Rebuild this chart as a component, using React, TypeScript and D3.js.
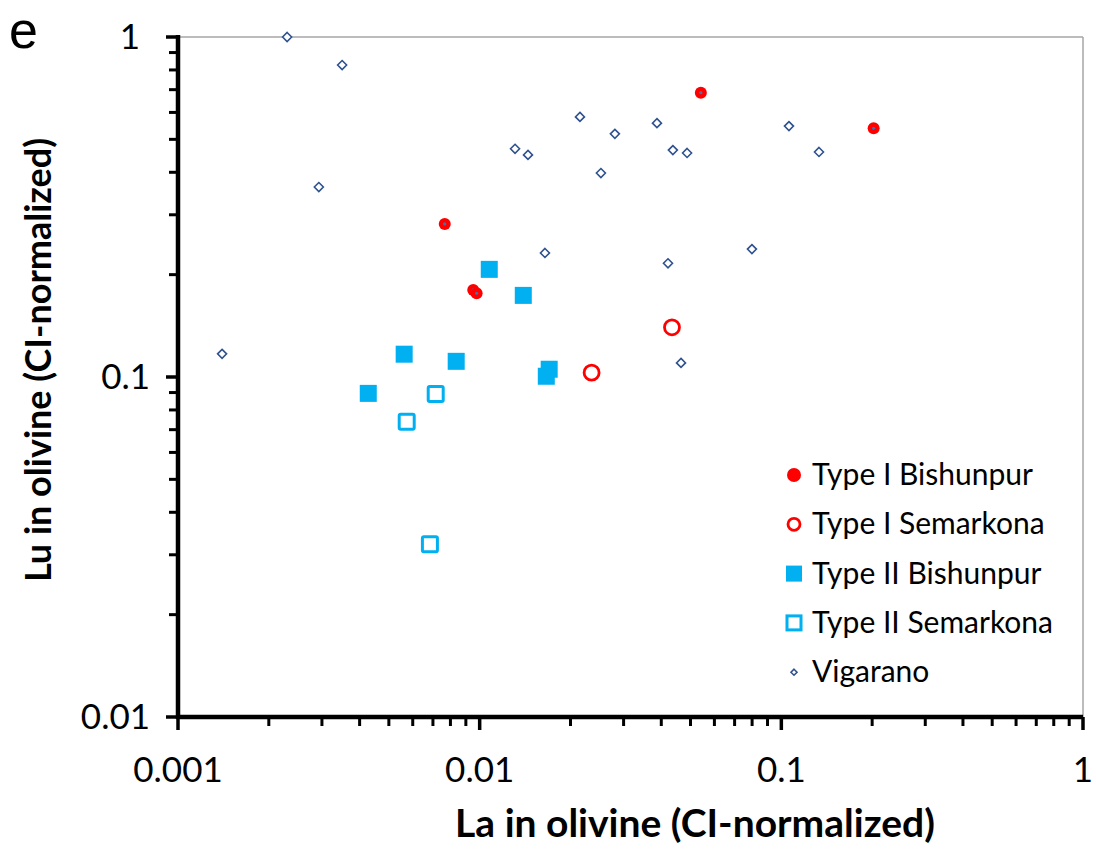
import * as d3 from "d3";

// La (x) and Lu (y) in olivine, CI-normalized
const type1BishunpurLa = [0.0541, 0.2023, 0.00766, 0.00952, 0.00977];
const type1BishunpurLu = [0.686, 0.539, 0.282, 0.1803, 0.1763];

const type1SemarkonaLa = [0.0235, 0.0434];
const type1SemarkonaLu = [0.103, 0.14];

const type2BishunpurLa = [0.01076, 0.01395, 0.00562, 0.00836, 0.004273, 0.017, 0.01663];
const type2BishunpurLu = [0.2073, 0.1738, 0.1167, 0.1112, 0.0895, 0.1054, 0.1005];

const type2SemarkonaLa = [0.00715, 0.00573, 0.00684];
const type2SemarkonaLu = [0.0891, 0.0739, 0.0322];

const vigaranoLa = [
  0.0023, 0.0035, 0.00293, 0.0014, 0.0131, 0.01446, 0.0215, 0.02807, 0.02523,
  0.01646, 0.0387, 0.0437, 0.0487, 0.0421, 0.0465, 0.0799, 0.106, 0.1333,
];
const vigaranoLu = [
  1.0, 0.827, 0.362, 0.117, 0.469, 0.45, 0.582, 0.519, 0.398, 0.2316, 0.558,
  0.465, 0.456, 0.216, 0.11, 0.2378, 0.547, 0.459,
];

const xTickLabels = ["0.001", "0.01", "0.1", "1"];
const yTickLabels = ["0.01", "0.1", "1"];

const legendLabels = [
  "Type I Bishunpur",
  "Type I Semarkona",
  "Type II Bishunpur",
  "Type II Semarkona",
  "Vigarano",
];

const RED = "#ff0000";
const CYAN = "#00b0f0";
const NAVY = "#2f528f";
const FONT = "Lato, 'Open Sans', sans-serif";

const zip = (xs: number[], ys: number[]) => xs.map((x, i) => [x, ys[i]] as [number, number]);

function minorTicks(lo: number, hi: number) {
  const out: number[] = [];
  for (let d = lo; d < hi; d *= 10) {
    for (let k = 2; k <= 9; k++) out.push(d * k);
  }
  return out;
}

function Diamond({ x, y, r = 4.5 }: { x: number; y: number; r?: number }) {
  return (
    <path
      d={`M${x},${y - r}L${x + r},${y}L${x},${y + r}L${x - r},${y}Z`}
      fill="white"
      stroke={NAVY}
      strokeWidth={1.6}
    />
  );
}

export default function App() {
  const W = 1096;
  const H = 849;
  const left = 178;
  const right = 1083;
  const top = 37;
  const bottom = 717;

  const x = d3.scaleLog().domain([0.001, 1]).range([left, right]);
  const y = d3.scaleLog().domain([0.01, 1]).range([bottom, top]);

  const xMinor = minorTicks(0.001, 1);
  const yMinor = minorTicks(0.01, 1);
  const xMajor = xTickLabels.map(Number);
  const yMajor = yTickLabels.map(Number);

  const legendX = 794;
  const legendY0 = 475;
  const legendStep = 49.3;

  return (
    <svg
      width={W}
      height={H}
      style={{ position: "absolute", left: 0, top: 0, background: "white" }}
    >
      <rect x={0} y={0} width={W} height={H} fill="white" />

      {/* panel letter */}
      <text x={9} y={47.5} fontFamily="'Liberation Sans', Arial, sans-serif" fontSize={52}>
        e
      </text>

      {/* frame */}
      <line x1={left} x2={right} y1={top} y2={top} stroke="#a6a6a6" strokeWidth={1.5} />
      <line x1={right} x2={right} y1={top} y2={bottom} stroke="#a6a6a6" strokeWidth={1.5} />

      {/* y ticks */}
      {yMinor.map((v) => (
        <line key={"ym" + v} x1={left - 9} x2={left} y1={y(v)} y2={y(v)} stroke="black" strokeWidth={3} />
      ))}
      {yMajor.map((v) => (
        <line key={"yM" + v} x1={left - 12} x2={left} y1={y(v)} y2={y(v)} stroke="black" strokeWidth={3.5} />
      ))}
      {/* x ticks */}
      {xMinor.map((v) => (
        <line key={"xm" + v} x1={x(v)} x2={x(v)} y1={bottom} y2={bottom + 9} stroke="black" strokeWidth={3} />
      ))}
      {xMajor.map((v) => (
        <line key={"xM" + v} x1={x(v)} x2={x(v)} y1={bottom} y2={bottom + 13} stroke="black" strokeWidth={3.5} />
      ))}

      {/* axes */}
      <line x1={left} x2={left} y1={top - 2} y2={bottom + 2} stroke="black" strokeWidth={4.5} />
      <line x1={left - 2} x2={right} y1={bottom} y2={bottom} stroke="black" strokeWidth={4.5} />

      {/* tick labels */}
      {xTickLabels.map((t, i) => (
        <text key={"xl" + t} x={x(xMajor[i])} y={782} textAnchor="middle" fontFamily={FONT} fontSize={35}>
          {t}
        </text>
      ))}
      {yTickLabels.map((t, i) => (
        <text key={"yl" + t} x={t === "1" ? 140 : 150} y={y(yMajor[i]) + 12} textAnchor="end" fontFamily={FONT} fontSize={35}>
          {t}
        </text>
      ))}

      {/* axis titles */}
      <text x={695} y={837} textAnchor="middle" fontFamily={FONT} fontSize={39} fontWeight="bold">
        La in olivine (CI-normalized)
      </text>
      <text
        transform="translate(51, 360) rotate(-90)"
        textAnchor="middle"
        fontFamily={FONT}
        fontSize={36}
        fontWeight="bold"
      >
        Lu in olivine (CI-normalized)
      </text>

      {/* Vigarano */}
      {zip(vigaranoLa, vigaranoLu).map(([a, b], i) => (
        <Diamond key={"v" + i} x={x(a)} y={y(b)} />
      ))}

      {/* Type II Semarkona */}
      {zip(type2SemarkonaLa, type2SemarkonaLu).map(([a, b], i) => (
        <rect key={"t2s" + i} x={x(a) - 7.5} y={y(b) - 7.5} width={15} height={15} rx={1.5}
          fill="white" stroke={CYAN} strokeWidth={3} />
      ))}

      {/* Type II Bishunpur */}
      {zip(type2BishunpurLa, type2BishunpurLu).map(([a, b], i) => (
        <rect key={"t2b" + i} x={x(a) - 8.5} y={y(b) - 8.5} width={17} height={17} fill={CYAN} />
      ))}

      {/* Type I Semarkona */}
      {zip(type1SemarkonaLa, type1SemarkonaLu).map(([a, b], i) => (
        <circle key={"t1s" + i} cx={x(a)} cy={y(b)} r={7.5} fill="white" stroke={RED} strokeWidth={2.8} />
      ))}

      {/* Type I Bishunpur */}
      {zip(type1BishunpurLa, type1BishunpurLu).map(([a, b], i) => (
        <g key={"t1b" + i}>
          <circle cx={x(a)} cy={y(b)} r={6} fill={RED} />
          <circle cx={x(a)} cy={y(b)} r={1.6} fill="#4a6fa5" />
        </g>
      ))}

      {/* legend */}
      {legendLabels.map((l, i) => {
        const ly = legendY0 + i * legendStep;
        let marker;
        if (i === 0) marker = <circle cx={legendX} cy={ly} r={7} fill={RED} />;
        else if (i === 1) marker = <circle cx={legendX} cy={ly} r={6} fill="white" stroke={RED} strokeWidth={2.8} />;
        else if (i === 2) marker = <rect x={legendX - 8} y={ly - 8} width={16} height={16} fill={CYAN} />;
        else if (i === 3) marker = <rect x={legendX - 7} y={ly - 7} width={14} height={14} fill="white" stroke={CYAN} strokeWidth={3} />;
        else marker = <Diamond x={legendX} y={ly} r={3} />;
        return (
          <g key={"lg" + i}>
            {marker}
            <text x={legendX + 18} y={ly + 10} fontFamily={FONT} fontSize={30}>
              {l}
            </text>
          </g>
        );
      })}
    </svg>
  );
}
